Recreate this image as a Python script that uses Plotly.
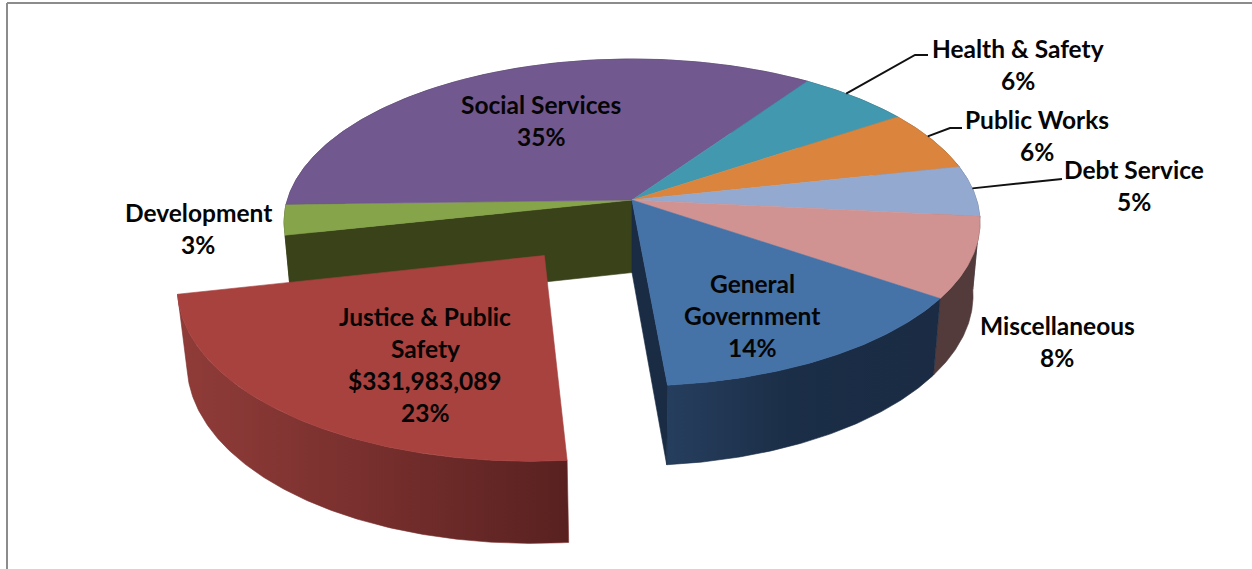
import numpy as np
import plotly.graph_objects as go

# Budget shares in percent, listed clockwise around the pie
categories = ["Justice & Public Safety", "Development", "Social Services", "Health & Safety",
              "Public Works", "Debt Service", "Miscellaneous", "General Government"]
shares = [23, 3, 35, 6, 6, 5, 8, 14]
explode = [0.41, 0, 0, 0, 0, 0, 0, 0]
top_colors = ["#a8423f", "#86a44a", "#71588f", "#4198af", "#db843d", "#93a9cf", "#d19392", "#4572a7"]
wall_colors = ["#7a2f2d", "#394219", "#3c2f4c", "#22515e", "#74441f", "#4e5a6e", "#533b3b", "#1a2c44"]

# Perspective camera for the disc, in page pixels
CX, CY = 632.0, 200.0
A, B = 344.7, 160.4
PERSP = 0.1376
DEPTH, DEPTH_PERSP = 74.0, 0.02
START_DEG = 174.9


def project(u, v, z=0.0):
    w = 1 - PERSP * v + DEPTH_PERSP * z
    return CX + A * u / w, CY + (B * v + DEPTH * z) / w


def rim(deg, du=0.0, dv=0.0):
    t = np.radians(deg)
    return np.sin(t) + du, -np.cos(t) + dv


def polygon_trace(xs, ys, color, gradient=None):
    trace = dict(x=list(xs) + [xs[0]], y=list(ys) + [ys[0]], mode="lines",
                 line=dict(width=0.6, color=color), fill="toself", fillcolor=color,
                 hoverinfo="skip", showlegend=False)
    if gradient:
        trace["fillgradient"] = dict(type="horizontal", colorscale=gradient)
    return go.Scatter(**trace)


fig = go.Figure()

edges = START_DEG + np.concatenate([[0], np.cumsum(shares)]) * 3.6
slices = []
for i, name in enumerate(categories):
    a0, a1 = edges[i], edges[i + 1]
    mid = np.radians((a0 + a1) / 2)
    du, dv = explode[i] * np.sin(mid), -explode[i] * np.cos(mid)
    slices.append((np.linspace(a0, a1, max(8, int(a1 - a0) * 2)), du, dv))

# Side faces first, back to front: the tops are painted over them afterwards
wall_gradient = {
    "Justice & Public Safety": [[0, "#903c39"], [0.5, "#772f2d"], [1, "#582120"]],
    "General Government": [[0, "#263e5e"], [0.45, "#1b2e47"], [1, "#1a2b43"]],
}
draw_order = [2, 1, 3, 4, 5, 6, 7, 0]
for i in draw_order:
    ang, du, dv = slices[i]
    u, v = rim(ang, du, dv)
    xt, yt = project(u, v)
    xb, yb = project(u, v, 1.0)
    if categories[i] == "General Government":
        # Radial face left open beside the pulled-out slice
        x0, y0 = project(du, dv)
        x1, y1 = project(du, dv, 1.0)
        xe, ye = project(u[-1], v[-1])
        xf, yf = project(u[-1], v[-1], 1.0)
        fig.add_trace(polygon_trace([x0, xe, xf, x1], [y0, ye, yf, y1], wall_colors[i]))
    fig.add_trace(polygon_trace(np.r_[xt, xb[::-1]], np.r_[yt, yb[::-1]], wall_colors[i],
                                wall_gradient.get(categories[i])))
    if categories[i] == "Development":
        x0, y0 = project(du, dv)
        x1, y1 = project(du, dv, 1.0)
        xe, ye = project(u[0], v[0])
        xf, yf = project(u[0], v[0], 1.0)
        fig.add_trace(polygon_trace([x0, xe, xf, x1], [y0, ye, yf, y1], wall_colors[i]))

# Slice tops, the pulled-out one last
for i in [1, 2, 3, 4, 5, 6, 7, 0]:
    ang, du, dv = slices[i]
    u, v = rim(ang, du, dv)
    xt, yt = project(u, v)
    x0, y0 = project(du, dv)
    fig.add_trace(polygon_trace(np.r_[x0, xt], np.r_[y0, yt], top_colors[i]))

# Leader lines: fraction along the slice's rim, then elbow and end in pixels
leaders = {
    "Health & Safety": (0.40, [(915, 55), (928, 55)]),
    "Public Works": (0.42, [(950, 128), (962, 128)]),
    "Debt Service": (0.45, [(1062, 179)]),
}
for name, (frac, tail) in leaders.items():
    i = categories.index(name)
    deg = edges[i] + (edges[i + 1] - edges[i]) * frac
    sx, sy = project(*rim(deg))
    fig.add_trace(go.Scatter(x=[sx] + [p[0] for p in tail], y=[sy] + [p[1] for p in tail],
                             mode="lines", line=dict(color="#111111", width=2),
                             hoverinfo="skip", showlegend=False))

# Data labels, one annotation per line to hold the 32 px leading
labels = [
    (["Justice & Public", "Safety", "$331,983,089", "23%"], 425, 316),
    (["Development", "3%"], 198, 212),
    (["Social Services", "35%"], 541, 104),
    (["Health & Safety", "6%"], 1018, 48),
    (["Public Works", "6%"], 1037, 119),
    (["Debt Service", "5%"], 1134, 169),
    (["Miscellaneous", "8%"], 1057, 325),
    (["General", "Government", "14%"], 752, 283),
]
for lines, x, y in labels:
    for k, text in enumerate(lines):
        fig.add_annotation(x=x, y=y + 32 * k, text=f"<b>{text}</b>", showarrow=False,
                           xanchor="center", yanchor="middle",
                           font=dict(family="Lato", size=24.5, color="#050505"))

# Chart-area border along the top and left
frame = dict(type="line", line=dict(color="#8c8c8c", width=2), layer="above")
fig.add_shape(x0=7, x1=1252, y0=3, y1=3, **frame)
fig.add_shape(x0=7, x1=7, y0=3, y1=569, **frame)

fig.update_layout(
    width=1252, height=569, margin=dict(l=0, r=0, t=0, b=0),
    paper_bgcolor="white", plot_bgcolor="white", showlegend=False,
    xaxis=dict(range=[0, 1252], visible=False, fixedrange=True),
    yaxis=dict(range=[569, 0], visible=False, fixedrange=True),
)
fig.write_html("out.html", config=dict(displayModeBar=False))
